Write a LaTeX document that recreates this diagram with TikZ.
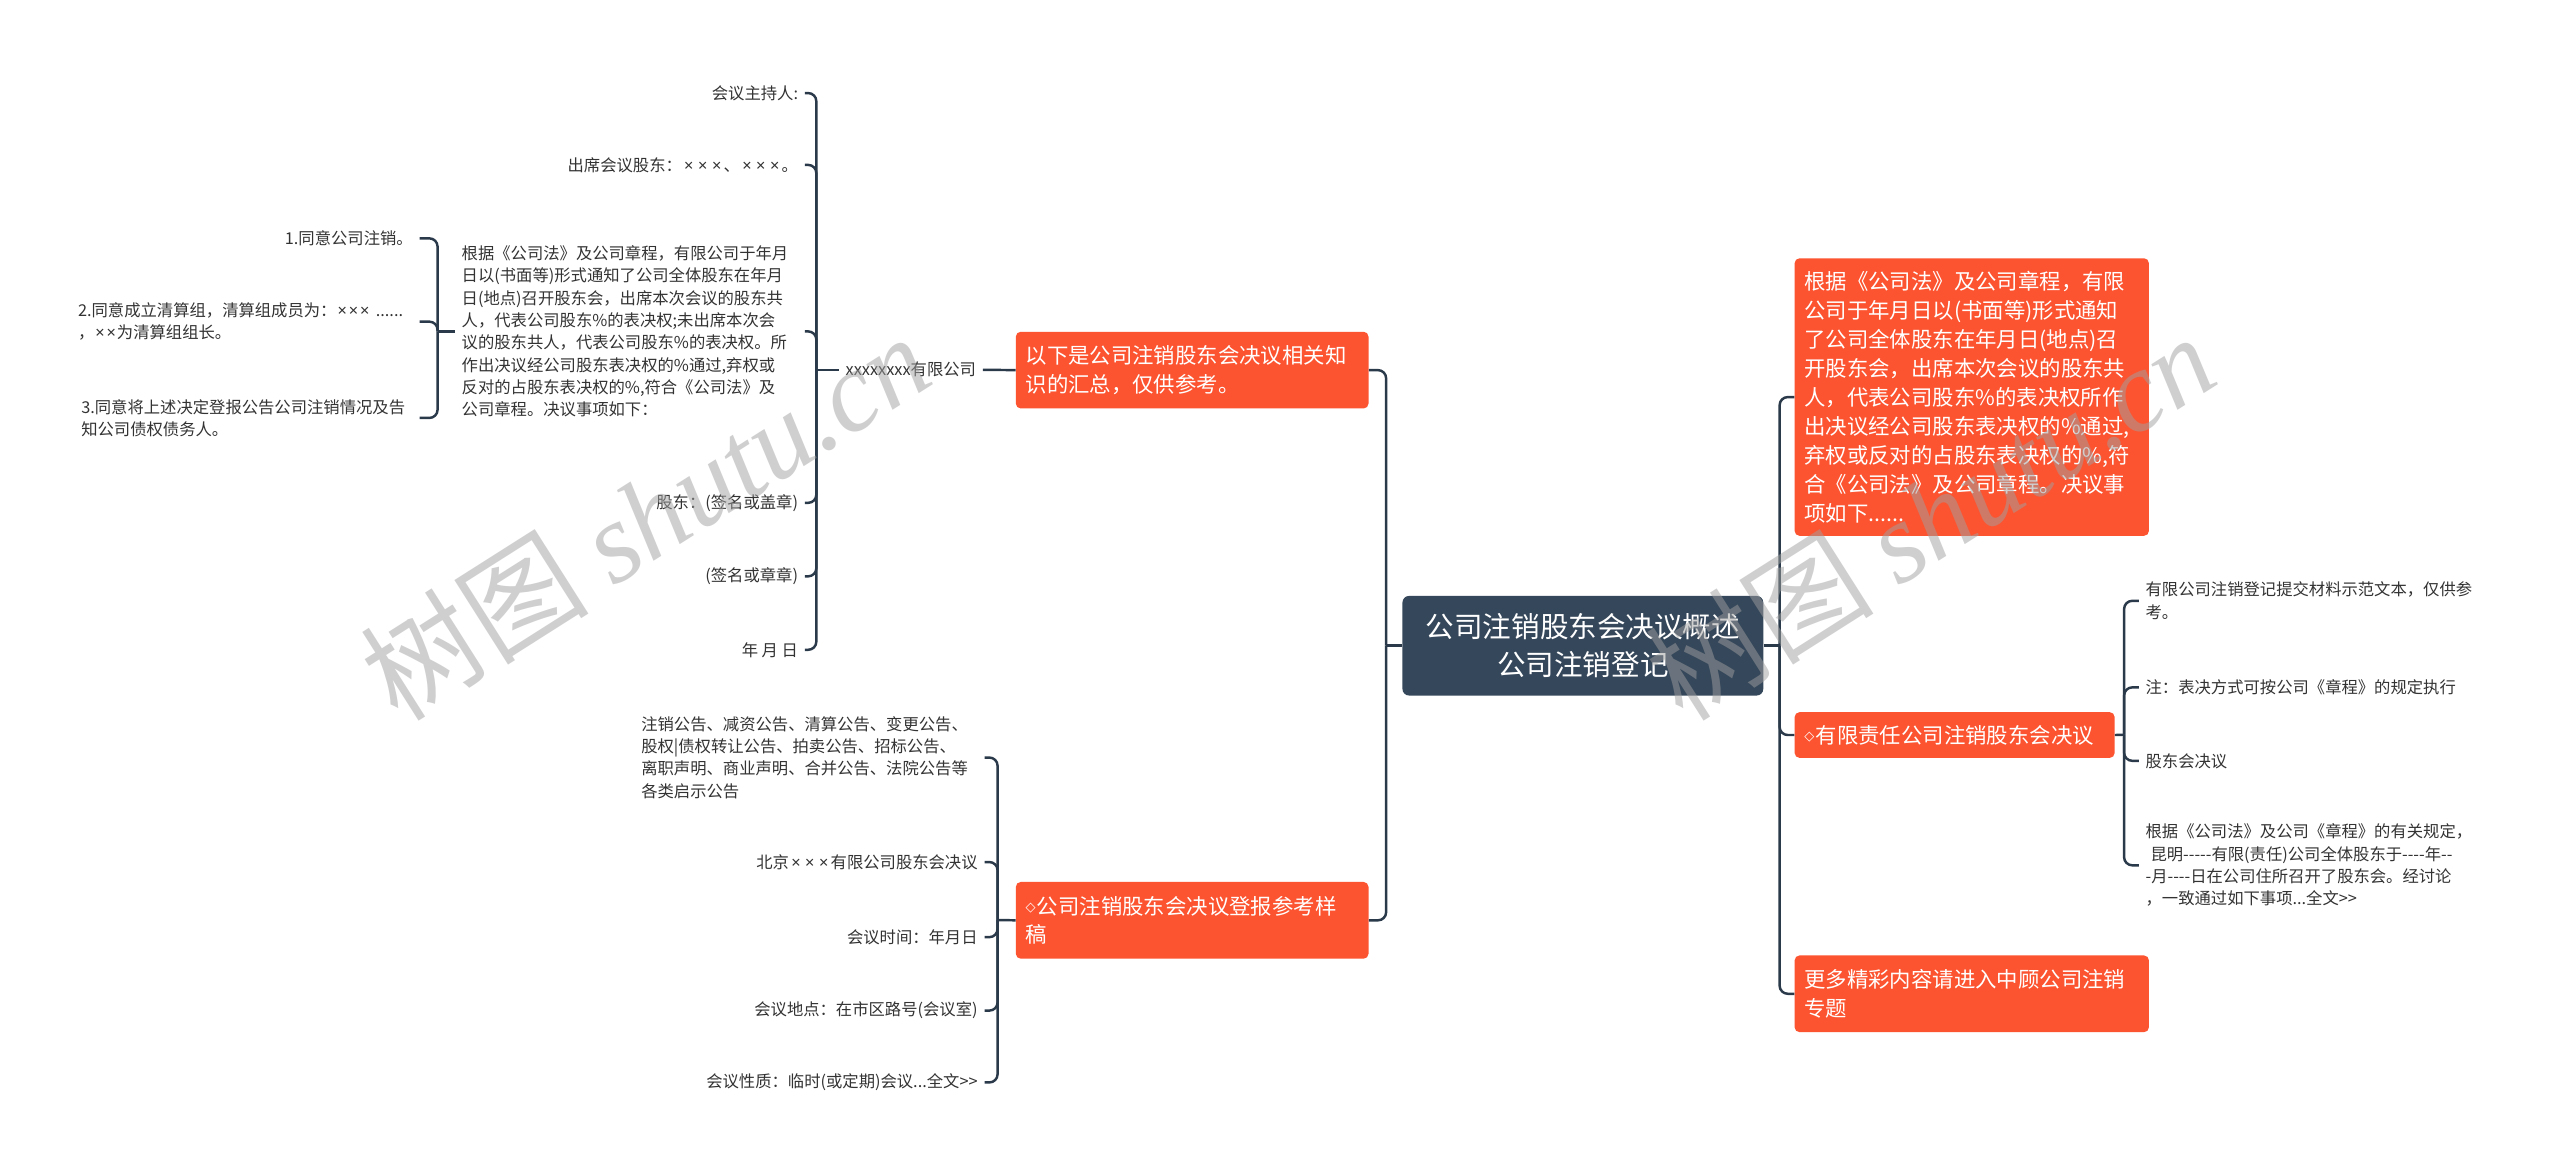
\documentclass[tikz,border=0pt]{standalone}
\usepackage{fontspec}
\newfontfamily\cjk{Noto Sans CJK SC}
\newfontfamily\lat{Noto Sans}
\newfontfamily\dv{DejaVu Sans}
\newfontfamily\wmserif{Liberation Serif}
\definecolor{orng}{HTML}{FC5430}
\definecolor{darkc}{HTML}{35475A}
\definecolor{linec}{HTML}{2B3A4A}
\definecolor{txtc}{HTML}{333333}
\definecolor{wmc}{HTML}{A0A0A0}
\newcommand\hh{-\kern0pt}
\newcommand\X{\kern1.4pt{\lat ×}\kern1.4pt}
\newcommand\Xn{\kern0.6pt{\lat ×}\kern0.6pt}
\newcommand\dia{\raisebox{1.6pt}{\dv\fontsize{8}{8}\selectfont ◇}\kern0.8pt}
\begin{document}
\begin{tikzpicture}[x=1pt,y=-1pt,
  conn/.style={draw=linec, line width=1.5pt, rounded corners=5pt},
  obox/.style={fill=orng, rounded corners=3pt, text=white, font=\cjk\fontsize{13.1}{17.75}\selectfont, align=left, inner xsep=6pt, inner ysep=0pt, anchor=north west},
  tnode/.style={text=txtc, font=\cjk\fontsize{10}{13.7}\selectfont, inner xsep=4pt, inner ysep=1pt, align=left},
  lt/.style={tnode, anchor=east},
  rt/.style={tnode, anchor=west},
  wm/.style={rotate=32.4, text=wmc, opacity=0.5, font=\cjk\fontsize{70}{70}\selectfont}
]
\fill[white] (0,0) rectangle (1568,719);
\useasboundingbox (0,0) rectangle (1568,719);

% central
\node[fill=darkc, rounded corners=4pt, text=white, font=\cjk\fontsize{17.5}{23}\selectfont, align=center, minimum width=221pt, minimum height=61pt, inner sep=0pt] (c) at (969.5,395.5) {公司注销股东会决议概述\\公司注销登记};

% right boxes
\node[obox, text width=205pt, minimum height=170pt] (r1) at (1099,158) {根据《公司法》及公司章程，有限\\公司于年月日以(书面等)形式通知\\了公司全体股东在年月日(地点)召\\开股东会，出席本次会议的股东共\\人，代表公司股东\%的表决权所作\\出决议经公司股东表决权的\%通过,\\弃权或反对的占股东表决权的\%,符\\合《公司法》及公司章程。决议事\\项如下......};
\node[obox, text width=184pt, minimum height=28pt] (r2) at (1099,436) {\dia 有限责任公司注销股东会决议};
\node[obox, text width=205pt, minimum height=47pt] (r3) at (1099,585) {更多精彩内容请进入中顾公司注销\\专题};

% left boxes
\node[obox, text width=204pt, minimum height=47pt] (l1) at (622,203) {以下是公司注销股东会决议相关知\\识的汇总，仅供参考。};
\node[obox, text width=204pt, minimum height=47pt] (l2) at (622,540) {\dia 公司注销股东会决议登报参考样\\稿};

% right spine
\draw[conn] (c.east) -- (1090,395.5);
\draw[conn] (1090,395.5) |- (r1.west);
\draw[conn] (1090,395.5) |- (r2.west);
\draw[conn] (1090,395.5) |- (r3.west);

% left spine
\draw[conn] (c.west) -- (849,395.5);
\draw[conn] (849,395.5) |- (l1.east);
\draw[conn] (849,395.5) |- (l2.east);

% L1 subtree
\node[lt] (x) at (602,226.5) {xxxxxxxx有限公司};
\draw[conn] (l1.west) -- (x.east);

\node[lt] (a1) at (493,57) {会议主持人:};
\node[lt] (a2) at (493,101) {出席会议股东：\X\X\X、\X\X\X。};
\node[lt, text width=206pt] (a3) at (493,203) {根据《公司法》及公司章程，有限公司于年月\\日以(书面等)形式通知了公司全体股东在年月\\日(地点)召开股东会，出席本次会议的股东共\\人，代表公司股东\%的表决权;未出席本次会\\议的股东共人，代表公司股东\%的表决权。所\\作出决议经公司股东表决权的\%通过,弃权或\\反对的占股东表决权的\%,符合《公司法》及\\公司章程。决议事项如下：};
\node[lt] (a4) at (493,308) {股东：(签名或盖章)};
\node[lt] (a5) at (493,353) {(签名或章章)};
\node[lt] (a6) at (493,398) {年 月 日};
\draw[conn] (x.west) -- (500,226.5);
\foreach \n in {a1,a2,a3,a4,a5,a6} \draw[conn] (500,226.5) |- (\n.east);

\node[lt] (b1) at (257,146) {1.同意公司注销。};
\node[lt, text width=205pt] (b2) at (257,197) {2.同意成立清算组，清算组成员为：\Xn\Xn\Xn~......\\，\Xn\Xn 为清算组组长。};
\node[lt, text width=203pt] (b3) at (257,256) {3.同意将上述决定登报公告公司注销情况及告\\知公司债权债务人。};
\draw[conn] (a3.west) -- (268,203);
\foreach \n in {b1,b2,b3} \draw[conn] (268,203) |- (\n.east);

% L2 subtree
\node[lt, text width=206pt] (d1) at (603,464) {注销公告、减资公告、清算公告、变更公告、\\股权|债权转让公告、拍卖公告、招标公告、\\离职声明、商业声明、合并公告、法院公告等\\各类启示公告};
\node[lt] (d2) at (603,528) {北京\X\X\X 有限公司股东会决议};
\node[lt] (d3) at (603,574) {会议时间：年月日};
\node[lt] (d4) at (603,619) {会议地点：在市区路号(会议室)};
\node[lt] (d5) at (603,663) {会议性质：临时(或定期)会议...全文>>};
\draw[conn] (l2.west) -- (611,563.5);
\foreach \n in {d1,d2,d3,d4,d5} \draw[conn] (611,563.5) |- (\n.east);

% R2 subtree
\node[rt, text width=206pt] (e1) at (1310,368) {有限公司注销登记提交材料示范文本，仅供参\\考。};
\node[rt] (e2) at (1310,421) {注：表决方式可按公司《章程》的规定执行};
\node[rt] (e3) at (1310,466) {股东会决议};
\node[rt, text width=206pt] (e4) at (1310,530) {根据《公司法》及公司《章程》的有关规定，\\\hspace*{3pt}昆明\hh\hh\hh\hh\hh 有限(责任)公司全体股东于\hh\hh\hh\hh 年\hh\hh\\\hh 月\hh\hh\hh\hh 日在公司住所召开了股东会。经讨论\\，一致通过如下事项...全文>>};
\draw[conn] (r2.east) -- (1301,450);
\foreach \n in {e1,e2,e3,e4} \draw[conn] (1301,450) |- (\n.west);

% watermarks
\node[wm] at (395,316) {树图 {\wmserif\itshape shutu.cn}};
\node[wm] at (1182,316) {树图 {\wmserif\itshape shutu.cn}};
\end{tikzpicture}
\end{document}
